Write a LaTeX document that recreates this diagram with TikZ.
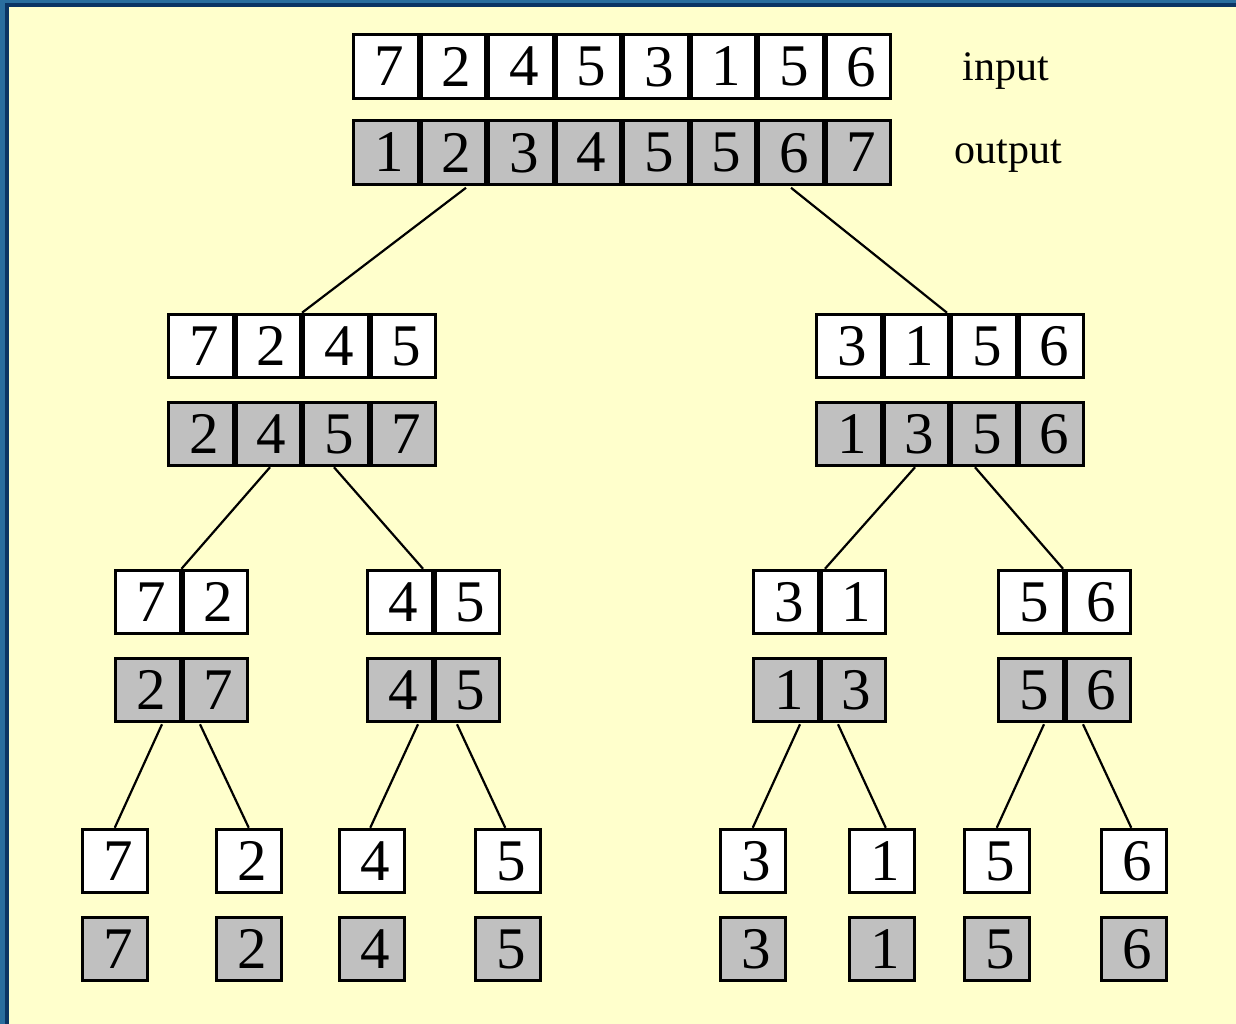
\documentclass[tikz,border=0pt]{standalone}
\usepackage{fontspec}
\setmainfont{Liberation Serif}
\definecolor{bgyellow}{HTML}{FFFFCC}
\definecolor{cellgray}{HTML}{C0C0C0}
\definecolor{bluelight}{HTML}{2A6E9E}
\definecolor{bluedark}{HTML}{0B3564}
\newcommand\mkrow[6]{%
  \node[grp, minimum width={#5*67.5}] (#1) at ({#2+#5*33.75},#3) {};
  \foreach \d [count=\i] in {#6} {\node[#4] (#1-\i) at ({#2+33.75+(\i-1)*67.5},#3) {\hspace*{6pt}\d};}%
}
\begin{document}
\begin{tikzpicture}[x=1pt,y=-1pt,
  grp/.style={inner sep=0pt, outer sep=0pt, minimum height=66.5pt},
  incell/.style={draw=black, line width=3pt, fill=white, minimum width=64.5pt, minimum height=63.5pt,
     inner sep=0pt, font=\fontsize{59}{61}\selectfont, text depth=0pt},
  outcell/.style={incell, fill=cellgray},
  conn/.style={line width=2.2pt, draw=black},
  lab/.style={font=\fontsize{42}{46}\selectfont, inner sep=0pt, anchor=base}]
\useasboundingbox (0,0) rectangle (1236,1024);
\fill[bgyellow] (0,0) rectangle (1236,1024);
\fill[bluelight] (0,0) rectangle (5,1024);
\fill[bluelight] (0,0) rectangle (1236,3);
\fill[bluedark] (5,3) rectangle (9,1024);
\fill[bluedark] (5,3) rectangle (1236,7);
% level 0
\mkrow{a0}{352}{66.5}{incell}{8}{7,2,4,5,3,1,5,6}
\mkrow{b0}{352}{152.5}{outcell}{8}{1,2,3,4,5,5,6,7}
\node[lab] (inlab) at (1006,81) {input};
\node[lab] (outlab) at (1008,164) {output};
% level 1
\mkrow{a1l}{167}{346}{incell}{4}{7,2,4,5}
\mkrow{b1l}{167}{434}{outcell}{4}{2,4,5,7}
\mkrow{a1r}{815}{346}{incell}{4}{3,1,5,6}
\mkrow{b1r}{815}{434}{outcell}{4}{1,3,5,6}
% level 2
\mkrow{a2a}{114}{602}{incell}{2}{7,2}
\mkrow{b2a}{114}{690}{outcell}{2}{2,7}
\mkrow{a2b}{366}{602}{incell}{2}{4,5}
\mkrow{b2b}{366}{690}{outcell}{2}{4,5}
\mkrow{a2c}{752}{602}{incell}{2}{3,1}
\mkrow{b2c}{752}{690}{outcell}{2}{1,3}
\mkrow{a2d}{997}{602}{incell}{2}{5,6}
\mkrow{b2d}{997}{690}{outcell}{2}{5,6}
% level 3
\mkrow{a3a}{81}{861}{incell}{1}{7}
\mkrow{b3a}{81}{949}{outcell}{1}{7}
\mkrow{a3b}{215}{861}{incell}{1}{2}
\mkrow{b3b}{215}{949}{outcell}{1}{2}
\mkrow{a3c}{338}{861}{incell}{1}{4}
\mkrow{b3c}{338}{949}{outcell}{1}{4}
\mkrow{a3d}{474}{861}{incell}{1}{5}
\mkrow{b3d}{474}{949}{outcell}{1}{5}
\mkrow{a3e}{719}{861}{incell}{1}{3}
\mkrow{b3e}{719}{949}{outcell}{1}{3}
\mkrow{a3f}{848}{861}{incell}{1}{1}
\mkrow{b3f}{848}{949}{outcell}{1}{1}
\mkrow{a3g}{963}{861}{incell}{1}{5}
\mkrow{b3g}{963}{949}{outcell}{1}{5}
\mkrow{a3h}{1100}{861}{incell}{1}{6}
\mkrow{b3h}{1100}{949}{outcell}{1}{6}
% connectors
\draw[conn] ([xshift=-156pt,yshift=-2pt]b0.south) -- (a1l.north);
\draw[conn] ([xshift=169pt,yshift=-2pt]b0.south) -- ([xshift=-3pt]a1r.north);
\draw[conn] ([xshift=-32pt]b1l.south) -- (a2a.north);
\draw[conn] ([xshift=32pt]b1l.south) -- ([xshift=-10.5pt]a2b.north);
\draw[conn] ([xshift=-35pt]b1r.south) -- ([xshift=5.5pt]a2c.north);
\draw[conn] ([xshift=25pt]b1r.south) -- ([xshift=-1.5pt]a2d.north);
\draw[conn] ([xshift=-19.5pt,yshift=-1pt]b2a.south) -- (a3a.north);
\draw[conn] ([xshift=18.5pt,yshift=-1pt]b2a.south) -- (a3b.north);
\draw[conn] ([xshift=-15.5pt,yshift=-1pt]b2b.south) -- ([xshift=-1.5pt]a3c.north);
\draw[conn] ([xshift=23.5pt,yshift=-1pt]b2b.south) -- ([xshift=-2.5pt]a3d.north);
\draw[conn] ([xshift=-19.5pt,yshift=-1pt]b2c.south) -- (a3e.north);
\draw[conn] ([xshift=18.5pt,yshift=-1pt]b2c.south) -- ([xshift=4pt]a3f.north);
\draw[conn] ([xshift=-20.5pt,yshift=-1pt]b2d.south) -- (a3g.north);
\draw[conn] ([xshift=18.5pt,yshift=-1pt]b2d.south) -- ([xshift=-2.5pt]a3h.north);
\end{tikzpicture}
\end{document}
